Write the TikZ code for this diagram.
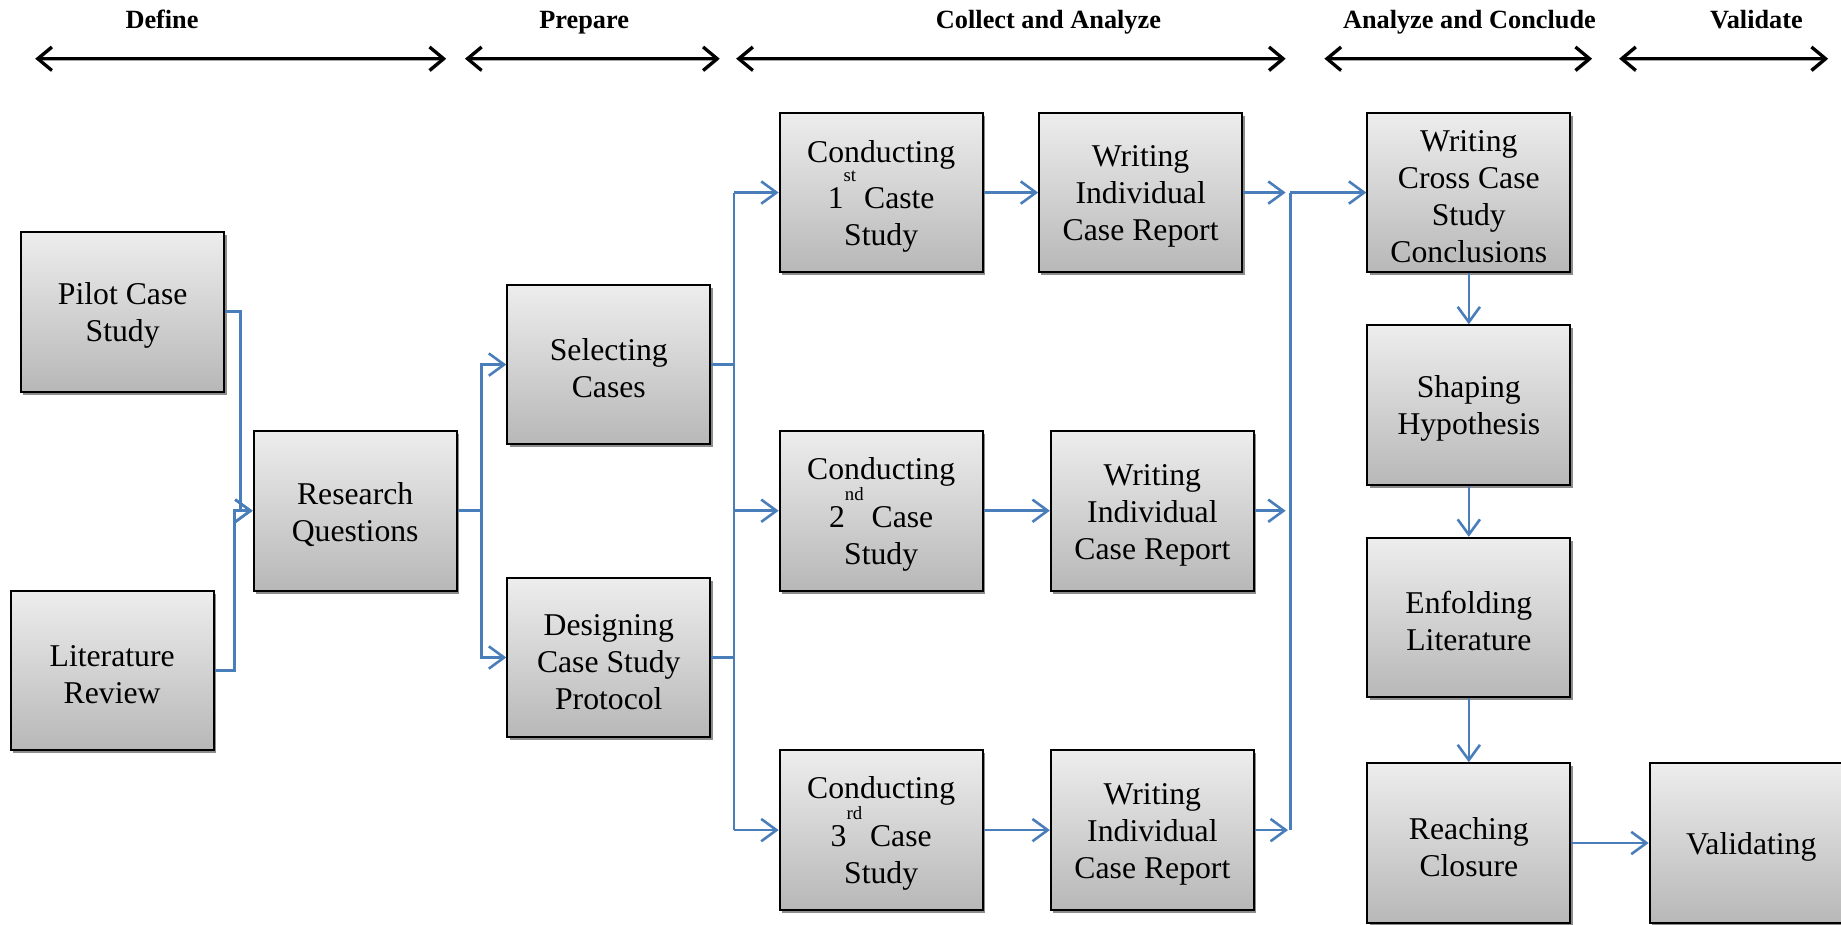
\documentclass[tikz,border=0pt]{standalone}
\usepackage{fontspec}
\setmainfont{Liberation Serif}
\usetikzlibrary{arrows.meta,shadows}
\definecolor{flowblue}{RGB}{74,126,187}
% raised ordinal suffix (1st, 2nd, 3rd)
\newcommand{\ordsfx}[1]{\raisebox{23pt}{\fontsize{16}{16}\selectfont #1}}
% tall first-line strut: sets the text block a little lower in each box
\newcommand{\topstrut}{\rule{0pt}{25pt}}
\begin{document}
\begin{tikzpicture}[x=1pt,y=-1pt,
  stage/.style={draw=black, line width=1.6pt, top color=black!7, bottom color=black!28,
    minimum width=173pt, minimum height=136pt, inner sep=0pt, align=center,
    font=\fontsize{27}{31.5}\selectfont,
    general shadow={fill=black!45, shadow xshift=2pt, shadow yshift=-2.5pt}},
  hdr/.style={anchor=base, font=\fontsize{22.4}{24}\selectfont\bfseries},
  span/.style={line width=2.8pt,
    {Straight Barb[length=12pt,width=20pt]}-{Straight Barb[length=12pt,width=20pt]},
    preaction={draw=black!35, transform canvas={xshift=0.6pt,yshift=-1.4pt}}},
  link/.style={draw=flowblue, line width=2.2pt},
  conn/.style={link, -{Straight Barb[length=13pt,width=19pt]}}]
\useasboundingbox (0,0) rectangle (1568,787);

% phase headers
\node[hdr] (hDefine)   at (138,24.5)    {Define};
\node[hdr] (hPrepare)  at (497.5,24.5)  {Prepare};
\node[hdr] (hCollect)  at (893,24.5)    {Collect and Analyze};
\node[hdr] (hConclude) at (1251.5,24.5) {Analyze and Conclude};
\node[hdr] (hValidate) at (1496,24.5)   {Validate};

\coordinate (dL) at (30,50);   \coordinate (dR) at (380,50);
\coordinate (pL) at (396,50);  \coordinate (pR) at (613,50);
\coordinate (cL) at (627,50);  \coordinate (cR) at (1095,50);
\coordinate (aL) at (1128,50); \coordinate (aR) at (1356,50);
\coordinate (vL) at (1379,50); \coordinate (vR) at (1557,50);
\draw[span] (dL) -- (dR);
\draw[span] (pL) -- (pR);
\draw[span] (cL) -- (cR);
\draw[span] (aL) -- (aR);
\draw[span] (vL) -- (vR);

% process steps
\node[stage] (pilot) at (104.5,265.5) {\topstrut Pilot Case\\Study};
\node[stage] (lit)   at (95.5,571)    {\topstrut Literature\\Review};
\node[stage] (rq)    at (302.5,435)   {\topstrut Research\\Questions};
\node[stage] (sel)   at (518.5,310.5) {\topstrut Selecting\\Cases};
\node[stage] (des)   at (518.5,560)   {\topstrut Designing\\Case Study\\Protocol};
\node[stage] (c1)    at (750.5,164)   {\topstrut Conducting\\1\ordsfx{st} Caste\\Study};
\node[stage] (w1)    at (971.5,164)   {\topstrut Writing\\Individual\\Case Report};
\node[stage] (c2)    at (750.5,435)   {\topstrut Conducting\\2\ordsfx{nd} Case\\Study};
\node[stage] (w2)    at (981.5,435)   {\topstrut Writing\\Individual\\Case Report};
\node[stage] (c3)    at (750.5,707)   {\topstrut Conducting\\3\ordsfx{rd} Case\\Study};
\node[stage] (w3)    at (981.5,707)   {\topstrut Writing\\Individual\\Case Report};
\node[stage] (cross) at (1251,164)    {\topstrut Writing\\Cross Case\\Study\\Conclusions};
\node[stage] (shape) at (1251,345)    {\topstrut Shaping\\Hypothesis};
\node[stage] (enf)   at (1251,526)    {\topstrut Enfolding\\Literature};
\node[stage] (reach) at (1251,718)    {\topstrut Reaching\\Closure};
\node[stage] (valid) at (1491.5,718)  {\topstrut Validating};

% define -> research questions
\draw[conn] (pilot.east) -- ++(13,0) |- (rq.west);
\draw[conn] (lit.east) -- ++(17,0) |- (rq.west);

% research questions -> preparation
\coordinate (fork1) at (410,435);
\draw[link] (rq.east) -- (fork1);
\draw[conn] (fork1) |- (sel.west);
\draw[conn] (fork1) |- (des.west);

% preparation -> case studies
\coordinate (bus1top) at (625,164);
\coordinate (bus1bot) at (625,707);
\draw[link] (sel.east) -- (sel.east -| bus1top);
\draw[link] (des.east) -- (des.east -| bus1top);
\draw[link] (bus1top) -- (bus1bot);
\draw[conn] (bus1top) -- (c1.west);
\draw[conn] (c2.west -| bus1top) -- (c2.west);
\draw[conn] (bus1bot) -- (c3.west);

% case studies -> reports
\draw[conn] (c1.east) -- (w1.west);
\draw[conn] (c2.east) -- (w2.west);
\draw[conn] (c3.east) -- (w3.west);

% reports -> cross case conclusions
\coordinate (bus2top) at (1099,164);
\coordinate (bus2bot) at (1099,707);
\draw[conn, shorten >=4pt] (w1.east) -- (bus2top);
\draw[conn, shorten >=4pt] (w2.east) -- (w2.east -| bus2top);
\draw[conn, shorten >=2pt] (w3.east) -- (bus2bot);
\draw[link] (bus2bot) -- (bus2top);
\draw[conn] (bus2top) -- (cross.west);

% conclusion chain
\draw[conn] (cross.south) -- (shape.north);
\draw[conn] (shape.south) -- (enf.north);
\draw[conn] (enf.south) -- (reach.north);
\draw[conn] (reach.east) -- (valid.west);
\end{tikzpicture}
\end{document}
